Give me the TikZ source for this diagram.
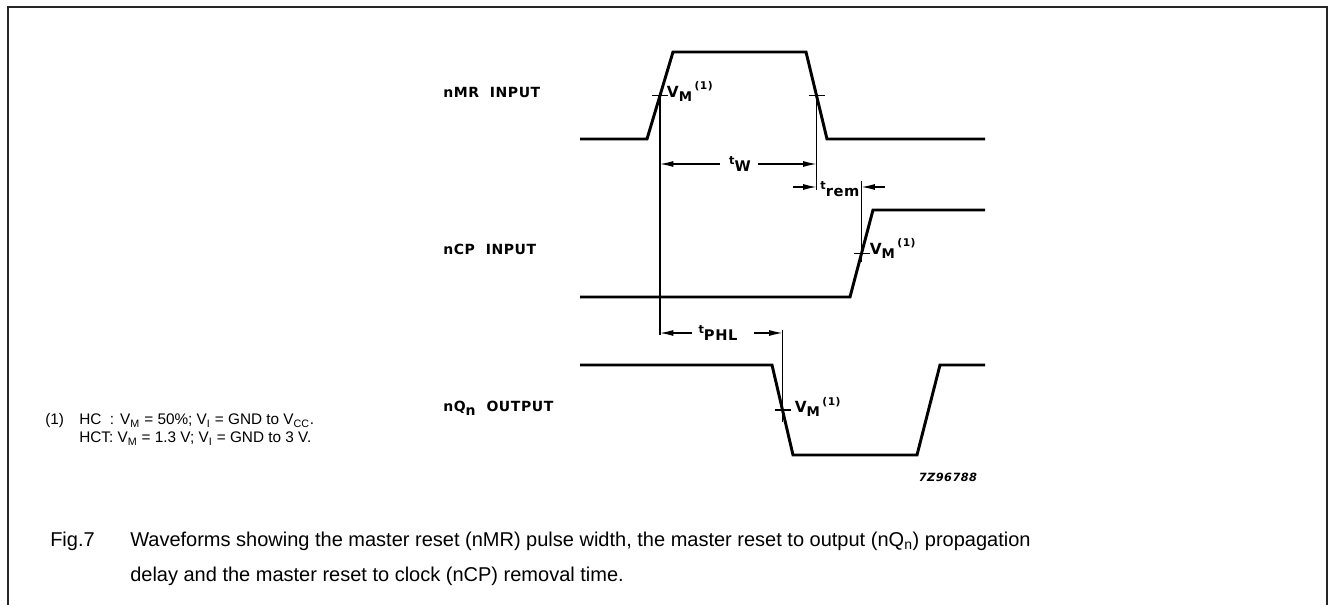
\documentclass[tikz,border=0pt]{standalone}
\usepackage{fontspec}
\setmainfont{Liberation Sans}
\newfontfamily\wavefont{DejaVu Sans}[LetterSpace=4]
\usetikzlibrary{arrows.meta,positioning}
\tikzset{
  framebox/.style={line width=1.5pt,black!85},
  wave/.style={line width=2.2pt,line join=miter},
  refline/.style={line width=0.9pt},
  vmtick/.style={line width=0.9pt},
  dimarrow/.style={-{Latex[length=10pt,width=4.5pt]},line width=0.9pt},
  sigtext/.style={font=\wavefont\bfseries\fontsize{10.5}{12}\selectfont,anchor=base west,inner sep=0pt},
  vmtext/.style={font=\wavefont\bfseries\fontsize{11.5}{13}\selectfont,anchor=base west,inner sep=0pt},
  timetext/.style={font=\wavefont\bfseries\fontsize{11}{12}\selectfont,inner sep=2pt},
  notetext/.style={font=\fontsize{11.5}{13.5}\selectfont,anchor=base west,inner sep=0pt},
  captext/.style={font=\fontsize{15}{18}\selectfont,anchor=base west,inner sep=0pt}
}
\newcommand{\vmark}{V\raisebox{-0.5ex}{\fontsize{10}{11}\selectfont M}\,\raisebox{0.9ex}{\fontsize{8}{9}\selectfont(1)}}
\newcommand{\tlabel}[1]{\raisebox{0.6ex}{\fontsize{8.5}{10}\selectfont t}\raisebox{-0.2ex}{#1}}

\begin{document}
\begin{tikzpicture}[x=0.75pt,y=-0.75pt]
\useasboundingbox (0,0) rectangle (1329,605);
% frame, open at the bottom
\draw[framebox] (8,605) -- (8,7) -- (1327,7) -- (1327,605);

% signal names
\node[sigtext] (mr) at (443,98) {nMR\ \ INPUT};
\node[sigtext] (cp) at (443,255) {nCP\ \ INPUT};
\node[sigtext] (q) at (443,412) {nQ\raisebox{-0.5ex}{n}\ \ OUTPUT};

% waveforms
\draw[wave] (580,139) -- (647,139) -- (673,52) -- (806,52) -- (827,139) -- (985,139);
\draw[wave] (580,297) -- (850,297) -- (873,210) -- (985,210);
\draw[wave] (580,365) -- (772,365) -- (793,455) -- (917,455) -- (940,365) -- (985,365);

% switching points
\coordinate (mrup) at (660,95.5);
\coordinate (mrdn) at (816.5,95.5);
\coordinate (cpup) at (861.5,253.5);
\coordinate (qdn) at (782.5,410);
\foreach \p in {mrup,mrdn,cpup,qdn}
  \draw[vmtick] ([xshift=-6pt]\p) -- ([xshift=6pt]\p);
\node[vmtext] (vm1) at ([xshift=5pt,yshift=-1.5pt]mrup) {\vmark};
\node[vmtext] (vm2) at ([xshift=6pt,yshift=-0.5pt]cpup) {\vmark};
\node[vmtext] (vm3) at ([xshift=9pt,yshift=-2pt]qdn) {\vmark};

% reference lines
\draw[refline] (mrup) -- (660,335);
\draw[refline] (mrdn) -- (816.5,190);
\draw[refline] (861.5,181) -- (861.5,262);
\draw[refline] (782.5,330) -- (782.5,422);

% timing
\node[timetext] (tw) at (740,164) {\tlabel{W}};
\draw[dimarrow] ([xshift=-5pt]tw.west) -- (mrup |- tw);
\draw[dimarrow] ([xshift=3pt]tw.east) -- (mrdn |- tw);

\node[timetext] (trem) at (840,189) {\tlabel{rem}};
\coordinate (remL) at (793,187);
\coordinate (remR) at (885,187);
\draw[dimarrow] (remL) -- (mrdn |- remL);
\draw[dimarrow] (remR) -- (cpup |- remR);

\node[timetext] (tphl) at (718,333) {\tlabel{PHL}};
\draw[dimarrow] ([xshift=-3pt]tphl.west) -- (mrup |- tphl);
\draw[dimarrow] ([xshift=10pt]tphl.east) -- (qdn |- tphl);

\node[font=\wavefont\bfseries\itshape\fontsize{8.5}{10}\selectfont] (code) at (948,477) {7Z96788};

% note and caption
\node[notetext] (nref) at (45,425) {(1)};
\node[notetext] (note1) at (79,425) {HC\hspace{0.55em}:\hspace{0.4em}V\textsubscript{M} = 50\%; V\textsubscript{I} = GND to V\textsubscript{CC}.};
\node[notetext] (note2) at (79,443) {HCT: V\textsubscript{M} = 1.3 V; V\textsubscript{I} = GND to 3 V.};
\node[captext] (fig) at (50,547) {Fig.7};
\node[captext] (cap1) at (130,547) {Waveforms showing the master reset (nMR) pulse width, the master reset to output (nQ\textsubscript{n}) propagation};
\node[captext] (cap2) at (130,582) {delay and the master reset to clock (nCP) removal time.};
\end{tikzpicture}
\end{document}
